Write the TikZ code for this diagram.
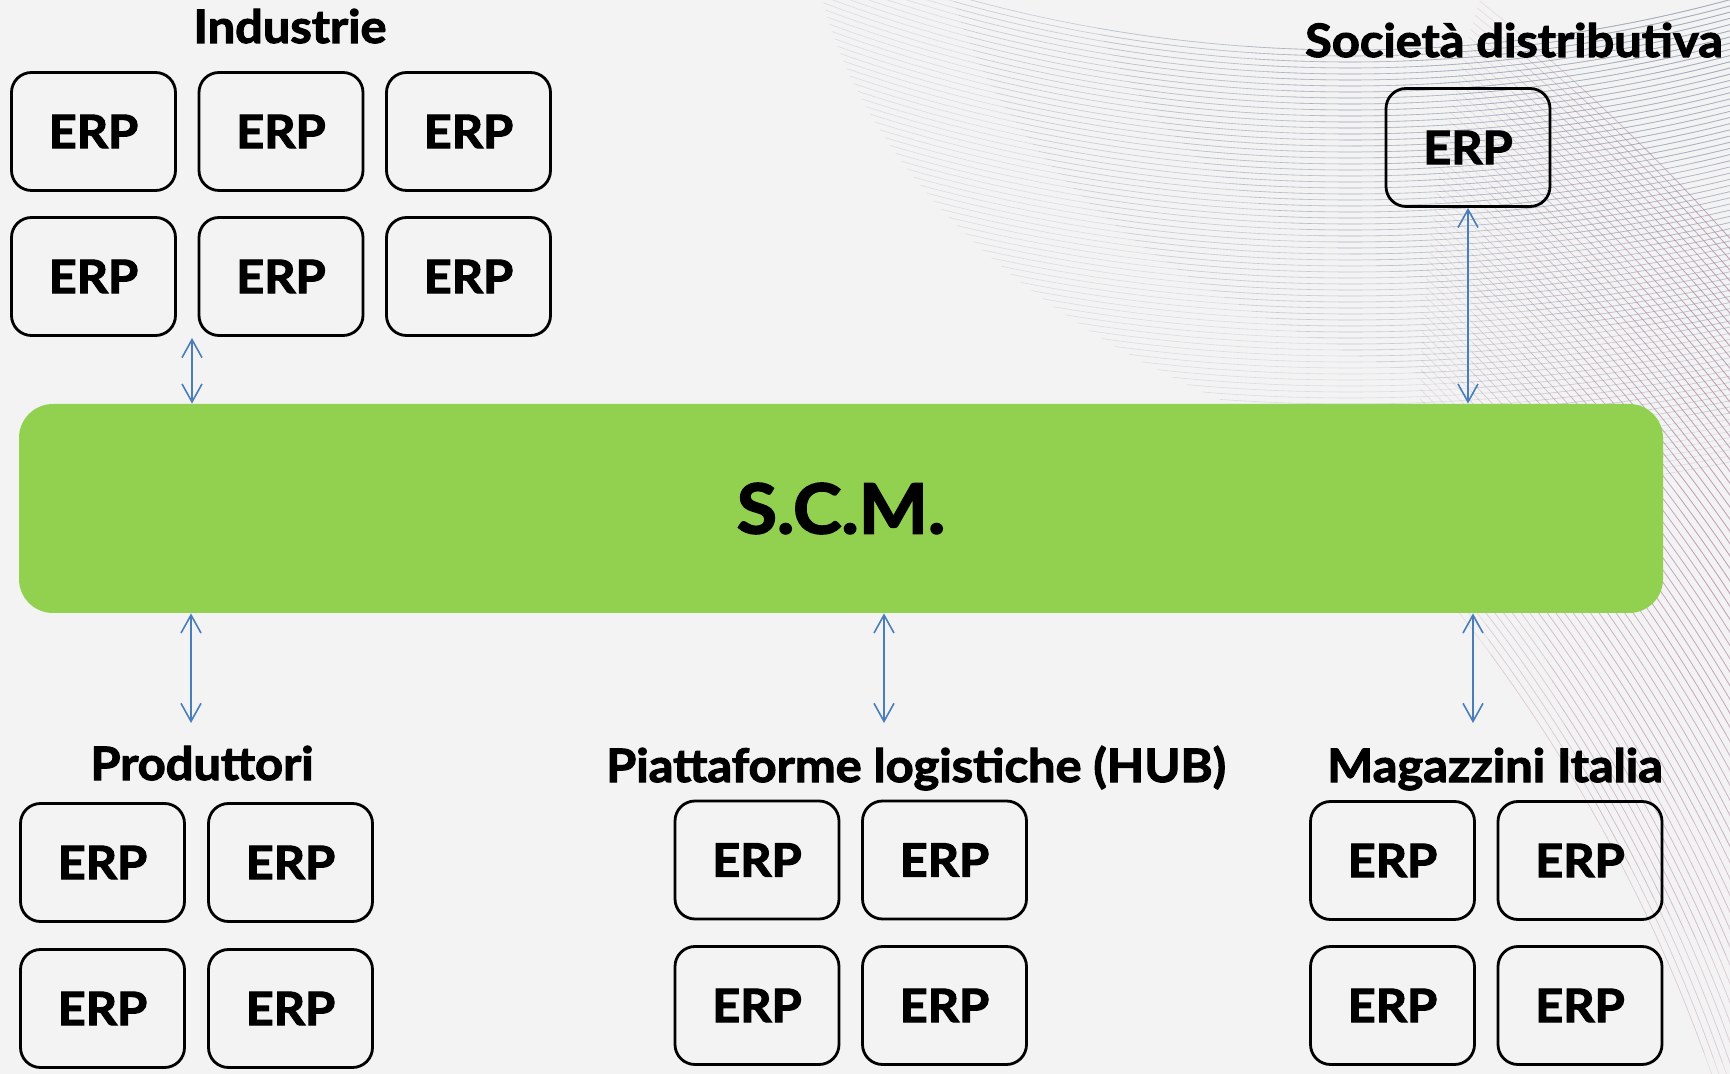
\documentclass[tikz,border=0pt]{standalone}
\usepackage{fontspec}
\setmainfont{Lato}[BoldFeatures={FakeBold=2.4,FakeStretch=1.06}]
\usetikzlibrary{arrows.meta}
\definecolor{bg}{HTML}{F3F3F3}
\definecolor{scmgreen}{HTML}{92D050}
\definecolor{arrowblue}{HTML}{4A7EBB}
\definecolor{patblue}{HTML}{8A96AC}
\definecolor{patpink}{HTML}{B88CA6}

\begin{document}
\begin{tikzpicture}[x=0.5pt,y=-0.5pt,
  erp/.style={draw=black, line width=1.4pt, rounded corners=10pt,
    minimum width=82pt, minimum height=59pt, inner sep=0pt,
    font=\fontsize{23}{23}\selectfont\bfseries},
  ttl/.style={anchor=base, inner sep=0pt, font=\fontsize{23}{23}\selectfont\bfseries},
  link/.style={draw=arrowblue, line width=0.8pt,
    {Straight Barb[length=9pt,width=10pt]}-{Straight Barb[length=9pt,width=10pt]}},
  patline/.style={line width=0.3pt}
]
\useasboundingbox (0,0) rectangle (1730,1074);
\fill[bg] (0,0) rectangle (1730,1074);

% background pattern (top right), faded by stacked clips
\begin{scope}
  \clip (0,0) rectangle (1730,1074);
  \foreach \s in {1,0.86,0.72,0.58,0.44,0.3} {
    \begin{scope}
      \clip (1730,-100) ellipse[x radius=\s*460pt, y radius=\s*300pt];
      \foreach \r in {1450,1456,...,1900}
        \draw[patblue, patline, opacity=0.24] (1350,-1400) circle[radius=\r*0.5pt];
    \end{scope}
    \begin{scope}
      \clip (1780,420) ellipse[x radius=\s*180pt, y radius=\s*380pt];
      \foreach \r in {1600,1607,...,2050}
        \draw[patpink, patline, opacity=0.24] (200,1600) circle[radius=\r*0.5pt];
    \end{scope}
  }
\end{scope}

% central S.C.M. bar
\node[fill=scmgreen, rounded corners=17pt, minimum width=822pt, minimum height=104.5pt,
  inner sep=0pt, font=\fontsize{34.5}{34.5}\selectfont\bfseries] (scm) at (841,508.5) {S.C.M.};

% Industrie
\node[ttl] (tind) at (290,43) {Industrie};
\node[erp] (i1) at (93.5,131.5) {ERP};
\node[erp] (i2) at (281,131.5) {ERP};
\node[erp] (i3) at (468.5,131.5) {ERP};
\node[erp] (i4) at (93.5,276.5) {ERP};
\node[erp] (i5) at (281,276.5) {ERP};
\node[erp] (i6) at (468.5,276.5) {ERP};

% Società distributiva
\node[ttl] (tsd) at (1514,57) {Società distributiva};
\node[erp] (sd) at (1468,147.5) {ERP};

% Produttori
\node[ttl] (tpro) at (202,780) {Produttori};
\node[erp] (p1) at (102.5,862.5) {ERP};
\node[erp] (p2) at (290.5,862.5) {ERP};
\node[erp] (p3) at (102.5,1008.5) {ERP};
\node[erp] (p4) at (290.5,1008.5) {ERP};

% Piattaforme logistiche
\node[ttl] (thub) at (916,782) {Piattaforme logistiche (HUB)};
\node[erp] (h1) at (757,860) {ERP};
\node[erp] (h2) at (944.5,860) {ERP};
\node[erp] (h3) at (757,1005.5) {ERP};
\node[erp] (h4) at (944.5,1005.5) {ERP};

% Magazzini Italia
\node[ttl] (tmag) at (1495,782) {Magazzini Italia};
\node[erp] (m1) at (1392.5,860.5) {ERP};
\node[erp] (m2) at (1580,860.5) {ERP};
\node[erp] (m3) at (1392.5,1005.5) {ERP};
\node[erp] (m4) at (1580,1005.5) {ERP};

% connectors
\coordinate (ia) at (192,338);
\coordinate (pa) at (191,723);
\coordinate (ha) at (884,723);
\coordinate (ma) at (1473,723);
\draw[link] (ia) -- (ia |- scm.north);
\draw[link] (sd.south) -- (sd.south |- scm.north);
\draw[link] (scm.south -| pa) -- (pa);
\draw[link] (scm.south -| ha) -- (ha);
\draw[link] (scm.south -| ma) -- (ma);
\end{tikzpicture}
\end{document}
